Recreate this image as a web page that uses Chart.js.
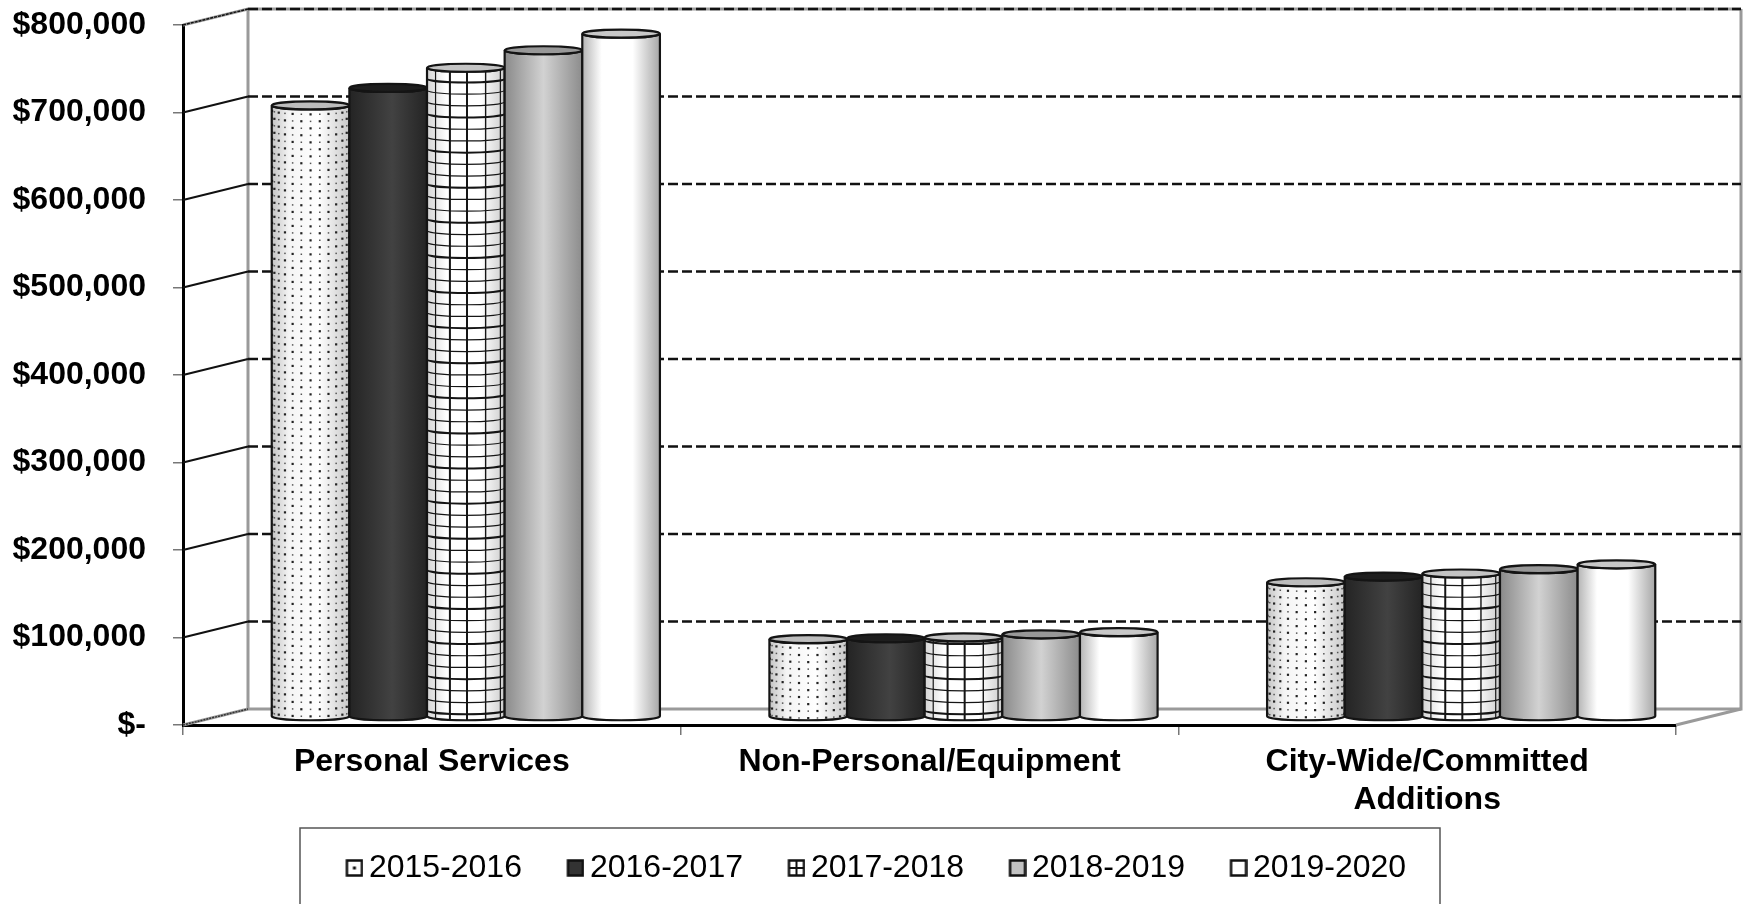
<!DOCTYPE html>
<html>
<head>
<meta charset="utf-8">
<title>Budget by category</title>
<script src="https://cdn.jsdelivr.net/npm/chart.js@4/dist/chart.umd.js"></script>
<style>
  html, body { margin: 0; background: #fff; overflow: hidden; }
  canvas { display: block; }
</style>
</head>
<body>
<canvas id="budgetChart" width="1743" height="904"></canvas>
<script>
const categories = ['Personal Services', 'Non-Personal/Equipment', ['City-Wide/Committed', 'Additions']];
const seriesNames = ['2015-2016', '2016-2017', '2017-2018', '2018-2019', '2019-2020'];
const values2015 = [699000, 89000, 154000];
const values2016 = [719000, 90000, 160500];
const values2017 = [742000, 91000, 164000];
const values2018 = [762000, 94500, 169000];
const values2019 = [781000, 97000, 174500];
const yTickLabels = ['$-', '$100,000', '$200,000', '$300,000', '$400,000', '$500,000', '$600,000', '$700,000', '$800,000'];

// how far the back wall sits from the front plane
const DEPTH_X = 65;
const DEPTH_Y = 16;
const BAR_SHIFT_X = 34;
const RIM = 4;

const FONT = '"Liberation Sans", Arial, sans-serif';

// one look per series: side gradient, cap colour, surface pattern
const looks = [
    { stops: [[0, '#c4c4c4'], [0.22, '#f4f4f4'], [0.6, '#ffffff'], [1, '#c8c8c8']], cap: '#bdbdbd', pattern: 'dots' },
    { stops: [[0, '#242424'], [0.55, '#424242'], [1, '#242424']], cap: '#1e1e1e' },
    { stops: [[0, '#d4d4d4'], [0.25, '#ffffff'], [0.7, '#ffffff'], [1, '#cccccc']], cap: '#c4c4c4', pattern: 'grid' },
    { stops: [[0, '#8a8a8a'], [0.5, '#d2d2d2'], [1, '#8c8c8c']], cap: '#989898' },
    { stops: [[0, '#b4b4b4'], [0.25, '#ffffff'], [0.65, '#ffffff'], [1, '#a6a6a6']], cap: '#c8c8c8' }
];

const rimOffset = (dx, r) => RIM * Math.sqrt(Math.max(0, 1 - (dx * dx) / (r * r)));

const paintDots = (ctx, cx, top, bottom, r) => {
    for (let k = -6; k <= 6; k++) {
        const dx = r * Math.sin(k * 0.24);
        let n = k & 1;
        for (let y = top + 5; y < bottom + RIM; y += 7) {
            const size = n % 2 === 0 ? 2.2 : 1.5;
            ctx.fillStyle = n % 2 === 0 ? '#222' : '#555';
            ctx.fillRect(cx + dx - size / 2, y + rimOffset(dx, r) - size / 2, size, size);
            n++;
        }
    }
};

const paintGrid = (ctx, cx, top, bottom, r) => {
    ctx.strokeStyle = '#151515';
    [[0.11, 1.2], [0.295, 2], [0.515, 2], [0.755, 1.4], [0.945, 1.2]].forEach(([f, w]) => {
        const x = cx - r + 2 * r * f;
        const dy = rimOffset(x - cx, r);
        ctx.lineWidth = w;
        ctx.beginPath();
        ctx.moveTo(x, top + dy);
        ctx.lineTo(x, bottom + dy);
        ctx.stroke();
    });
    let n = 0;
    for (let y = bottom - 6; y > top - RIM; y -= 11.7) {
        ctx.lineWidth = n % 3 === 0 ? 2 : 1.2;
        ctx.beginPath();
        ctx.ellipse(cx, y, r, RIM, 0, Math.PI, 0, true);
        ctx.stroke();
        n++;
    }
};

const drawCylinder = (ctx, cx, top, bottom, r, look) => {
    const grad = ctx.createLinearGradient(cx - r, 0, cx + r, 0);
    look.stops.forEach(([at, col]) => grad.addColorStop(at, col));

    const sidePath = () => {
        ctx.beginPath();
        ctx.moveTo(cx - r, top);
        ctx.lineTo(cx - r, bottom);
        ctx.ellipse(cx, bottom, r, RIM, 0, Math.PI, 0, true);
        ctx.lineTo(cx + r, top);
        ctx.ellipse(cx, top, r, RIM, 0, 0, Math.PI, false);
        ctx.closePath();
    };

    ctx.save();
    sidePath();
    ctx.fillStyle = grad;
    ctx.fill();
    ctx.clip();
    if (look.pattern === 'dots') paintDots(ctx, cx, top, bottom, r);
    if (look.pattern === 'grid') paintGrid(ctx, cx, top, bottom, r);
    ctx.restore();

    sidePath();
    ctx.strokeStyle = '#141414';
    ctx.lineWidth = 2.2;
    ctx.stroke();

    ctx.beginPath();
    ctx.ellipse(cx, top, r, RIM, 0, 0, Math.PI * 2);
    ctx.fillStyle = look.cap;
    ctx.fill();
    ctx.stroke();
};

// walls, floor and dashed gridlines behind the bars
const wallPlugin = {
    id: 'walls',
    beforeDraw(chart) {
        const ctx = chart.ctx;
        ctx.save();
        ctx.strokeStyle = '#555';
        ctx.lineWidth = 1.5;
        ctx.strokeRect(300, 828, 1140, 120);
        ctx.restore();
    },
    beforeDatasetsDraw(chart) {
        const { ctx, chartArea, scales } = chart;
        const left = chartArea.left, right = chartArea.right;
        const backLeft = left + DEPTH_X, backRight = right + DEPTH_X;
        const zeroY = scales.y.getPixelForValue(0);
        const topY = scales.y.getPixelForValue(800000);

        ctx.save();
        ctx.strokeStyle = '#9a9a9a';
        ctx.lineWidth = 3;
        ctx.beginPath();
        ctx.moveTo(backLeft, topY - DEPTH_Y);
        ctx.lineTo(backLeft, zeroY - DEPTH_Y);
        ctx.lineTo(backRight, zeroY - DEPTH_Y);
        ctx.lineTo(backRight, topY - DEPTH_Y);
        ctx.stroke();
        ctx.beginPath();
        ctx.moveTo(right, zeroY);
        ctx.lineTo(backRight, zeroY - DEPTH_Y);
        ctx.moveTo(left, zeroY);
        ctx.lineTo(backLeft, zeroY - DEPTH_Y);
        ctx.moveTo(left, topY);
        ctx.lineTo(backLeft, topY - DEPTH_Y);
        ctx.lineTo(backRight, topY - DEPTH_Y);
        ctx.stroke();

        scales.y.ticks.forEach(tick => {
            if (tick.value === 0) return;
            const y = scales.y.getPixelForValue(tick.value);
            ctx.strokeStyle = '#111';
            ctx.lineWidth = tick.value === 800000 ? 1.5 : 2.2;
            ctx.setLineDash(tick.value === 800000 ? [3, 1] : []);
            ctx.beginPath();
            ctx.moveTo(left, y);
            ctx.lineTo(backLeft, y - DEPTH_Y);
            ctx.stroke();
            ctx.setLineDash([10, 4]);
            ctx.lineWidth = 2.5;
            ctx.beginPath();
            ctx.moveTo(backLeft, y - DEPTH_Y);
            ctx.lineTo(backRight, y - DEPTH_Y);
            ctx.stroke();
            ctx.setLineDash([]);
        });

        ctx.strokeStyle = '#333';
        ctx.lineWidth = 1.5;
        ctx.setLineDash([2, 1]);
        ctx.beginPath();
        ctx.moveTo(left, zeroY);
        ctx.lineTo(backLeft, zeroY - DEPTH_Y);
        ctx.stroke();
        ctx.restore();
    },
    afterDatasetsDraw(chart) {
        const ctx = chart.ctx;
        chart.data.datasets.forEach((ds, i) => {
            chart.getDatasetMeta(i).data.forEach(bar => {
                drawCylinder(ctx, bar.x + BAR_SHIFT_X, bar.y - DEPTH_Y / 2, bar.base - DEPTH_Y / 2, bar.width / 2, looks[i]);
            });
        });
    },
    afterLayout(chart) {
        // two-line category labels need more room than the layout box leaves them
        chart.scales.x.bottom = chart.height;
        // legend row sits lower and further right than its default spot
        chart.legend.top = 801;
        chart.legend.left += 41;
        chart.legend.right += 41;
    }
};

// small square legend swatches, drawn a little right of the canvas centre
const makeMarker = (i) => {
    const c = document.createElement('canvas');
    c.width = 22;
    c.height = 18;
    const m = c.getContext('2d');
    m.translate(4, 0);
    m.fillStyle = ['#ffffff', '#333333', '#ffffff', '#c2c2c2', '#ffffff'][i];
    m.fillRect(1, 1, 16, 16);
    m.strokeStyle = '#111';
    m.lineWidth = 2.5;
    m.strokeRect(1.5, 1.5, 15, 15);
    m.fillStyle = '#111';
    if (i === 0) m.fillRect(7.5, 7.5, 3, 3);
    if (i === 2) {
        m.lineWidth = 2;
        m.beginPath();
        m.moveTo(9, 2);
        m.lineTo(9, 16);
        m.moveTo(2, 9);
        m.lineTo(16, 9);
        m.stroke();
    }
    return c;
};
const markers = seriesNames.map((_, i) => makeMarker(i));

const makeDataset = (label, data) => ({
    label: label,
    data: data,
    backgroundColor: 'transparent',
    borderWidth: 0,
    categoryPercentage: 0.78,
    barPercentage: 1
});

const ctx1 = document.getElementById('budgetChart').getContext('2d');
const budgetChart = new Chart(ctx1, {
    type: 'bar',
    data: {
        labels: categories,
        datasets: [
            makeDataset(seriesNames[0], values2015),
            makeDataset(seriesNames[1], values2016),
            makeDataset(seriesNames[2], values2017),
            makeDataset(seriesNames[3], values2018),
            makeDataset(seriesNames[4], values2019)
        ]
    },
    options: {
        responsive: false,
        animation: false,
        events: [],
        layout: { padding: { top: 25, right: 67, left: 0, bottom: 0 } },
        scales: {
            x: {
                afterFit(scale) {
                    scale.height = 86;
                    scale.paddingLeft = 0;
                    scale.paddingRight = 0;
                },
                border: { color: '#000', width: 3 },
                grid: { drawOnChartArea: false, color: '#777', lineWidth: 1.5, tickLength: 10 },
                ticks: {
                    autoSkip: false,
                    maxRotation: 0,
                    padding: 8,
                    color: '#000',
                    font: { family: FONT, size: 32, weight: 'bold' }
                }
            },
            y: {
                min: 0,
                max: 800000,
                afterFit(scale) {
                    scale.width = 183;
                    scale.paddingTop = 0;
                    scale.paddingBottom = 0;
                },
                border: { color: '#000', width: 3 },
                grid: { drawOnChartArea: false, color: '#777', lineWidth: 1.5, tickLength: 10 },
                ticks: {
                    stepSize: 100000,
                    padding: 27,
                    color: '#000',
                    font: { family: FONT, size: 32, weight: 'bold' },
                    callback: (value, index) => yTickLabels[index]
                }
            }
        },
        plugins: {
            tooltip: { enabled: false },
            legend: {
                position: 'bottom',
                labels: {
                    usePointStyle: true,
                    pointStyleWidth: 1,
                    padding: 51,
                    color: '#000',
                    font: { family: FONT, size: 32 },
                    generateLabels: () => seriesNames.map((name, i) => ({
                        text: name,
                        pointStyle: markers[i],
                        datasetIndex: i,
                        hidden: false,
                        lineWidth: 0
                    }))
                }
            }
        }
    },
    plugins: [wallPlugin]
});
</script>
</body>
</html>
